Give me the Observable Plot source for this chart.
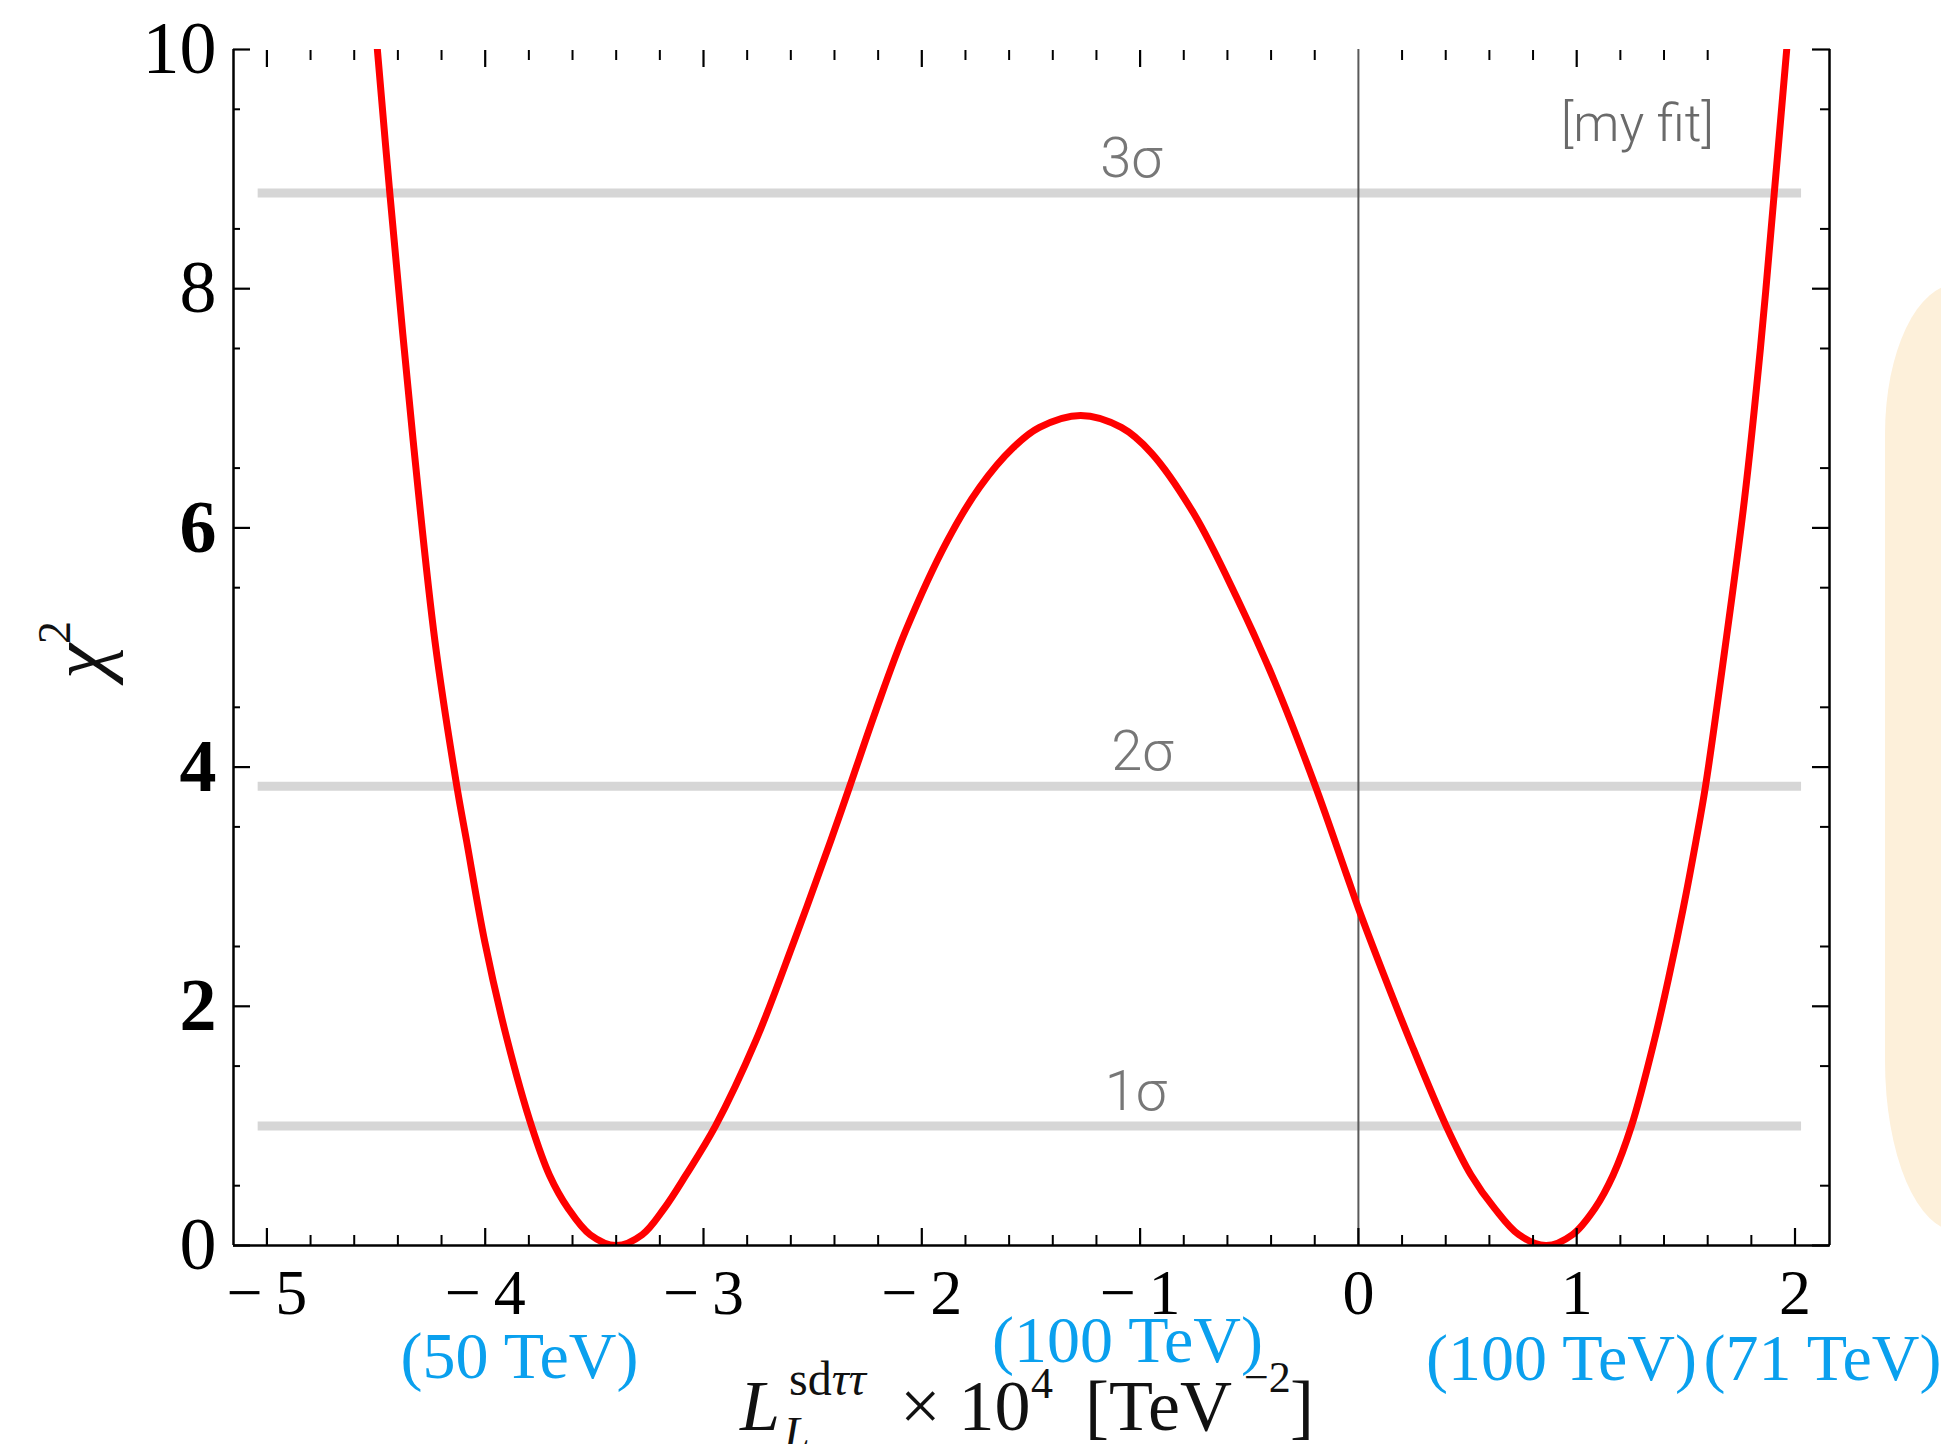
<!DOCTYPE html>
<html>
<head>
<meta charset="utf-8">
<script src="https://cdn.jsdelivr.net/npm/d3@7"></script>
<script src="https://cdn.jsdelivr.net/npm/@observablehq/plot@0.6"></script>
<style>
  html, body { margin: 0; padding: 0; background: #ffffff; }
  #wrap { position: relative; width: 1941px; height: 1444px; overflow: hidden; background: #ffffff; }
  #deco { position: absolute; left: 1885px; top: 284px; width: 300px; height: 947px;
          background: #fdf0da; border-radius: 72px 0 0 72px / 150px 0 0 170px; z-index: 1; }
  #chart { position: absolute; left: 0; top: 0; }
</style>
</head>
<body>
<div id="wrap"><div id="chart"></div><div id="deco"></div></div>
<script>
// ---- data ----
const coeff = [-4.494, -4.437, -4.330, -4.230, -4.130, -4.085, -4.002, -3.898, -3.788, -3.706, -3.620, -3.519, -3.400, -3.281, -3.180, -3.080, -2.945, -2.761, -2.586, -2.418, -2.330, -2.209, -2.074, -1.884, -1.735, -1.582, -1.461, -1.272, -1.086, -0.950, -0.754, -0.558, -0.385, -0.197, -0.054, 0.000, 0.115, 0.237, 0.402, 0.516, 0.624, 0.735, 0.860, 0.980, 1.083, 1.167, 1.251, 1.355, 1.425, 1.488, 1.546, 1.590, 1.676, 1.768, 1.842, 1.905, 1.962];
const chi2  = [10.0, 8.8, 6.73, 5.05, 3.84, 3.38, 2.54, 1.71, 1.0, 0.59, 0.31, 0.09, 0.0, 0.09, 0.31, 0.59, 1.0, 1.71, 2.54, 3.38, 3.84, 4.48, 5.14, 5.89, 6.34, 6.67, 6.84, 6.94, 6.84, 6.63, 6.12, 5.42, 4.72, 3.84, 3.10, 2.82, 2.27, 1.71, 1.0, 0.59, 0.31, 0.09, 0.0, 0.09, 0.31, 0.59, 1.0, 1.71, 2.27, 2.82, 3.38, 3.84, 4.95, 6.23, 7.51, 8.8, 10.0];

const sigmaNames  = ["1σ", "2σ", "3σ"];
const sigmaLevels = [1.0, 3.84, 8.8];
const sigmaLabelX = [-1.02, -0.99, -1.04];
const sigmaLineFrom = -5.04, sigmaLineTo = 2.03;

const fitLabel = "[my fit]";
const fitLabelX = 1.278, fitLabelY = 9.37;

const massLabels = ["(50 TeV)", "(100 TeV)", "(100 TeV)", "(71 TeV)"];
const massX = [-3.843, -1.058, 0.930, 2.126];
const massY = [-0.93, -0.80, -0.945, -0.945];

const xMajor = [-5, -4, -3, -2, -1, 0, 1, 2];
const xMinor = d3.range(-50, 21, 2).map(v => v / 10).filter(v => !Number.isInteger(v));
const xTopMajor = [-5, -4, -3, -2, -1, 1];
const xTopMinor = xMinor.filter(v => v < 1.7);
const yMajor = [0, 2, 4, 6, 8, 10];
const yMinor = d3.range(1, 20, 2).map(v => v / 2);
const yBoldLabels = ["2", "4", "6"];

const xDomain = [-5.153, 2.158];
const yDomain = [0, 10];

// ---- chart ----
const points = coeff.map((x, i) => ({x, y: chi2[i]}));
const fmtX = d => d < 0 ? "\u2212\u2009" + Math.abs(d) : String(d);
const serif = "'Liberation Serif', 'Times New Roman', serif";
const light = "Roboto, 'Helvetica Neue', sans-serif";

const chart = Plot.plot({
  width: 1941,
  height: 1444,
  marginLeft: 233,
  marginRight: 112,
  marginTop: 49,
  marginBottom: 199,
  style: {background: "transparent", color: "#000", fontFamily: serif, overflow: "visible"},
  x: {domain: xDomain},
  y: {domain: yDomain},
  marks: [
    Plot.ruleY(sigmaLevels, {y: d => d, x1: () => sigmaLineFrom, x2: () => sigmaLineTo, stroke: "#d6d6d6", strokeWidth: 9}),
    Plot.ruleX([0], {stroke: "#5a5a5a", strokeWidth: 2}),
    Plot.line(points, {x: "x", y: "y", curve: "catmull-rom", stroke: "#ff0000", strokeWidth: 7, clip: true}),
    Plot.text(sigmaNames, {x: (d, i) => sigmaLabelX[i], y: (d, i) => sigmaLevels[i], text: d => d, dy: -34,
      fontSize: 56, fill: "#777777", fontFamily: light, fontWeight: 300}),
    Plot.text([fitLabel], {x: () => fitLabelX, y: () => fitLabelY, text: d => d,
      fontSize: 52, fill: "#6a6a6a", fontFamily: light, fontWeight: 300}),
    Plot.text(massLabels, {x: (d, i) => massX[i], y: (d, i) => massY[i], text: d => d,
      fontSize: 66, fill: "#0aa0ee", fontFamily: serif}),
    // frame (no top line)
    Plot.ruleX(xDomain, {stroke: "#000", strokeWidth: 2.5}),
    Plot.ruleY([yDomain[0]], {stroke: "#000", strokeWidth: 2.5}),
    // axes with inward ticks
    Plot.axisX({ticks: xMajor, anchor: "bottom", tickSize: -17, tickPadding: 40, tickFormat: fmtX,
      fontSize: 64, label: null, strokeWidth: 2.2}),
    Plot.axisX({ticks: xMinor, anchor: "bottom", tickSize: -10, tickFormat: () => "", label: null, strokeWidth: 2}),
    Plot.axisX({ticks: xTopMajor, anchor: "top", tickSize: -17, tickFormat: () => "", label: null, strokeWidth: 2.2}),
    Plot.axisX({ticks: xTopMinor, anchor: "top", tickSize: -10, tickFormat: () => "", label: null, strokeWidth: 2}),
    Plot.axisY({ticks: yMajor, anchor: "left", tickSize: -17, tickPadding: 34, tickFormat: d => String(d),
      fontSize: 74, label: null, strokeWidth: 2.2}),
    Plot.axisY({ticks: yMinor, anchor: "left", tickSize: -7, tickFormat: () => "", label: null, strokeWidth: 2}),
    Plot.axisY({ticks: yMajor, anchor: "right", tickSize: -18, tickFormat: () => "", label: null, strokeWidth: 2.2}),
    Plot.axisY({ticks: yMinor, anchor: "right", tickSize: -10, tickFormat: () => "", label: null, strokeWidth: 2})
  ]
});
document.getElementById("chart").appendChild(chart);

const svg = d3.select(chart);
// the reference prints some y tick labels heavier
svg.selectAll("text").filter(function () {
  return this.closest('[aria-label="y-axis tick label"]') && yBoldLabels.includes(this.textContent);
}).attr("font-weight", "bold");

// ---- axis titles (rich text) ----
const yt = svg.append("text")
  .attr("transform", "translate(106,650) rotate(-90)")
  .attr("text-anchor", "middle")
  .attr("font-family", serif).attr("font-size", 80).attr("fill", "#111");
yt.append("tspan").attr("font-style", "italic").text("χ");
yt.append("tspan").attr("font-size", 46).attr("dy", -36).text("2");

const xt = svg.append("text")
  .attr("text-anchor", "start")
  .attr("font-family", serif).attr("font-size", 72).attr("fill", "#111");
xt.append("tspan").attr("x", 740).attr("y", 1430).attr("font-style", "italic").text("L");
xt.append("tspan").attr("x", 789).attr("y", 1395).attr("font-size", 48).text("sd");
xt.append("tspan").attr("font-size", 48).attr("font-style", "italic").text("ττ");
xt.append("tspan").attr("x", 784).attr("y", 1449).attr("font-size", 46).attr("font-style", "italic").text("L");
xt.append("tspan").attr("x", 900).attr("y", 1430).text("× 10");
xt.append("tspan").attr("x", 1031).attr("y", 1398).attr("font-size", 44).text("4");
xt.append("tspan").attr("x", 1085).attr("y", 1430).text("[TeV");
xt.append("tspan").attr("x", 1244).attr("y", 1392).attr("font-size", 44).text("\u22122");
xt.append("tspan").attr("x", 1290).attr("y", 1430).text("]");
</script>
</body>
</html>
